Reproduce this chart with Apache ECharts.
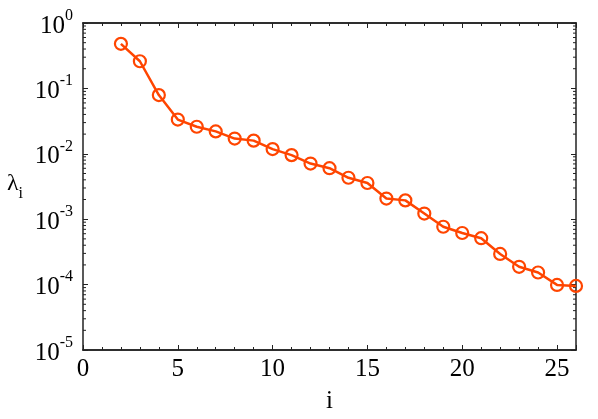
<!DOCTYPE html>
<html>
<head>
<meta charset="utf-8">
<script src="https://cdn.jsdelivr.net/npm/echarts@6/dist/echarts.min.js"></script>
<style>
    html, body { margin: 0; padding: 0; background: #fff; }
    #chart { width: 598px; height: 419px; }
</style>
</head>
<body>
<div id="chart"></div>
<script>
    var idx = [2, 3, 4, 5, 6, 7, 8, 9, 10, 11, 12, 13, 14, 15, 16, 17, 18, 19, 20, 21, 22, 23, 24, 25, 26];
    var lambda = [0.48, 0.26, 0.079, 0.0334, 0.0259, 0.0220, 0.0171, 0.0159, 0.0118, 0.00955, 0.0071, 0.00603,
        0.0043, 0.00358, 0.00207, 0.00194, 0.00122, 0.000767, 0.000615, 0.000512, 0.000294, 0.000187,
        0.000153, 0.0000989, 0.0000955];
    var xTicks = [0, 5, 10, 15, 20, 25];
    var yMinor = [];   // log minor ticks, 2..9 in each decade
    for (var d = -5; d < 0; d++) {
        for (var m = 2; m <= 9; m++) yMinor.push(m * Math.pow(10, d));
    }

    var font = 'Liberation Serif';
    var axisColor = '#222';

    function xAxisDef(pos, interval, len, labels) {
        return {
            type: 'value', position: pos, min: 0, max: 26, interval: interval,
            axisLine: { show: true, onZero: false, lineStyle: { color: axisColor, width: 1.5 } },
            axisTick: { show: true, inside: true, length: len, lineStyle: { color: axisColor, width: 1 } },
            axisLabel: {
                show: labels, margin: 7, color: '#000', fontSize: 25, fontFamily: font,
                formatter: function (v) { return xTicks.indexOf(v) >= 0 ? String(v) : ''; }
            },
            splitLine: { show: false }
        };
    }

    var chart = echarts.init(document.getElementById('chart'));
    chart.setOption({
        animation: false,
        grid: { left: 83, right: 22, top: 23, bottom: 65 },
        xAxis: [
            Object.assign(xAxisDef('bottom', 5, 5, true), {
                name: 'i', nameLocation: 'middle', nameGap: 39,
                nameTextStyle: { color: '#000', fontSize: 25, fontFamily: font }
            }),
            xAxisDef('bottom', 1, 3, false),
            xAxisDef('top', 5, 5, false),
            xAxisDef('top', 1, 3, false)
        ],
        yAxis: [
            {
                type: 'log', logBase: 10, min: 1e-5, max: 1, position: 'left',
                name: '{l|λ}{s|i}', nameLocation: 'middle', nameGap: 60, nameRotate: 0,
                nameTextStyle: {
                    rich: {
                        l: { color: '#000', fontSize: 24, fontFamily: font, padding: [0, 0, 6, 0] },
                        s: { color: '#000', fontSize: 16, fontFamily: font, verticalAlign: 'bottom' }
                    }
                },
                axisLine: { show: true, onZero: false, lineStyle: { color: axisColor, width: 1.5 } },
                axisTick: { show: true, inside: true, length: 5, lineStyle: { color: axisColor, width: 1 } },
                axisLabel: {
                    margin: 10, color: '#000',
                    formatter: function (v) {
                        var e = Math.round(Math.log10(v));
                        return '{b|10}{s|' + e + '}';
                    },
                    rich: {
                        b: { color: '#000', fontSize: 25, fontFamily: font, padding: [6, 0, 0, 0] },
                        s: { color: '#000', fontSize: 16, fontFamily: font, verticalAlign: 'top' }
                    }
                },
                splitLine: { show: false }
            },
            {
                type: 'log', logBase: 10, min: 1e-5, max: 1, position: 'right',
                axisLine: { show: true, onZero: false, lineStyle: { color: axisColor, width: 1.5 } },
                axisTick: { show: true, inside: true, length: 5, lineStyle: { color: axisColor, width: 1 } },
                axisLabel: { show: false },
                splitLine: { show: false }
            }
        ],
        series: [
            {
                // minor ticks of the log axis on both sides
                type: 'custom',
                silent: true,
                data: yMinor.map(function (v) { return [0, v]; }),
                renderItem: function (params, api) {
                    var v = api.value(1);
                    var l = api.coord([0, v]);
                    var r = api.coord([26, v]);
                    var st = { stroke: axisColor, lineWidth: 1 };
                    return {
                        type: 'group',
                        children: [
                            { type: 'line', shape: { x1: l[0], y1: l[1], x2: l[0] + 3, y2: l[1] }, style: st },
                            { type: 'line', shape: { x1: r[0], y1: r[1], x2: r[0] - 3, y2: r[1] }, style: st }
                        ]
                    };
                }
            },
            {
                type: 'line',
                data: idx.map(function (x, i) { return [x, lambda[i]]; }),
                symbol: 'circle',
                symbolSize: 12,
                lineStyle: { color: '#ff4500', width: 2.5 },
                itemStyle: { color: 'rgba(255,255,255,0)', borderColor: '#ff4500', borderWidth: 2.2 },
                clip: false,
                z: 5
            }
        ]
    });
</script>
</body>
</html>
